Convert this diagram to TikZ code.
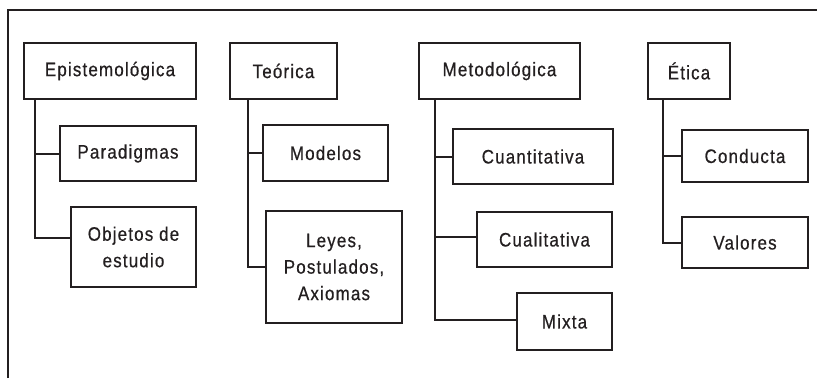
\documentclass[tikz,border=0pt]{standalone}
\usepackage{fontspec}
\setmainfont{Liberation Sans}[FakeStretch=0.87,LetterSpace=6,FakeBold=0.6]
\definecolor{ink}{HTML}{231F20}
\begin{document}
\begin{tikzpicture}[x=1pt,y=-1pt,
  box/.style={draw=ink,line width=2pt,inner sep=0pt,align=center,text=ink,
    font=\fontsize{19.5}{26.5}\selectfont},
  conn/.style={draw=ink,line width=2pt}]
\useasboundingbox (0,0) rectangle (817,378);
% frame
\coordinate (ftl) at (8,10);
\coordinate (fbl) at (8,378);
\coordinate (ftr) at (817,10);
\draw[conn] (fbl) -- (ftl) -- (ftr);
% Epistemologica
\node[box,minimum width=172pt,minimum height=56pt] (E) at (110,71) {Epistemológica};
\node[box,minimum width=136pt,minimum height=55pt] (P) at (128,153.5) {Paradigmas};
\node[box,minimum width=125pt,minimum height=80pt] (O) at (133.5,247) {Objetos de\\estudio};
\coordinate (Oc) at ([yshift=9pt]O.west);
\draw[conn] ([xshift=12pt]E.south west) |- (Oc);
\draw[conn] ([xshift=12pt]E.south west |- P.west) -- (P.west);
% Teorica
\node[box,minimum width=107pt,minimum height=56pt] (T) at (283.5,71) {Teórica};
\node[box,minimum width=125pt,minimum height=56pt] (Mo) at (325.5,153) {Modelos};
\node[box,minimum width=136pt,minimum height=112pt] (L) at (334,267) {Leyes,\\Postulados,\\Axiomas};
\draw[conn] ([xshift=19pt]T.south west) |- (L.west);
\draw[conn] ([xshift=19pt]T.south west |- Mo.west) -- (Mo.west);
% Metodologica
\node[box,minimum width=161pt,minimum height=56pt] (M) at (499.5,71) {Metodológica};
\node[box,minimum width=160pt,minimum height=55pt] (Cn) at (533,156.5) {Cuantitativa};
\node[box,minimum width=135pt,minimum height=55pt] (Cl) at (544.5,239.5) {Cualitativa};
\node[box,minimum width=95pt,minimum height=57pt] (Mx) at (564.5,321.5) {Mixta};
\coordinate (Clc) at ([yshift=2.5pt]Cl.west);
\coordinate (Mxc) at ([yshift=1.5pt]Mx.west);
\draw[conn] ([xshift=17pt]M.south west) |- (Mxc);
\draw[conn] ([xshift=17pt]M.south west |- Cn.west) -- (Cn.west);
\draw[conn] ([xshift=17pt]M.south west |- Clc) -- (Clc);
% Etica
\node[box,minimum width=82pt,minimum height=56pt] (Et) at (689,71) {Ética};
\node[box,minimum width=126pt,minimum height=52pt] (Co) at (745,156) {Conducta};
\node[box,minimum width=126pt,minimum height=51pt] (V) at (745,242.5) {Valores};
\draw[conn] ([xshift=16pt]Et.south west) |- (V.west);
\draw[conn] ([xshift=16pt]Et.south west |- Co.west) -- (Co.west);
\end{tikzpicture}
\end{document}
